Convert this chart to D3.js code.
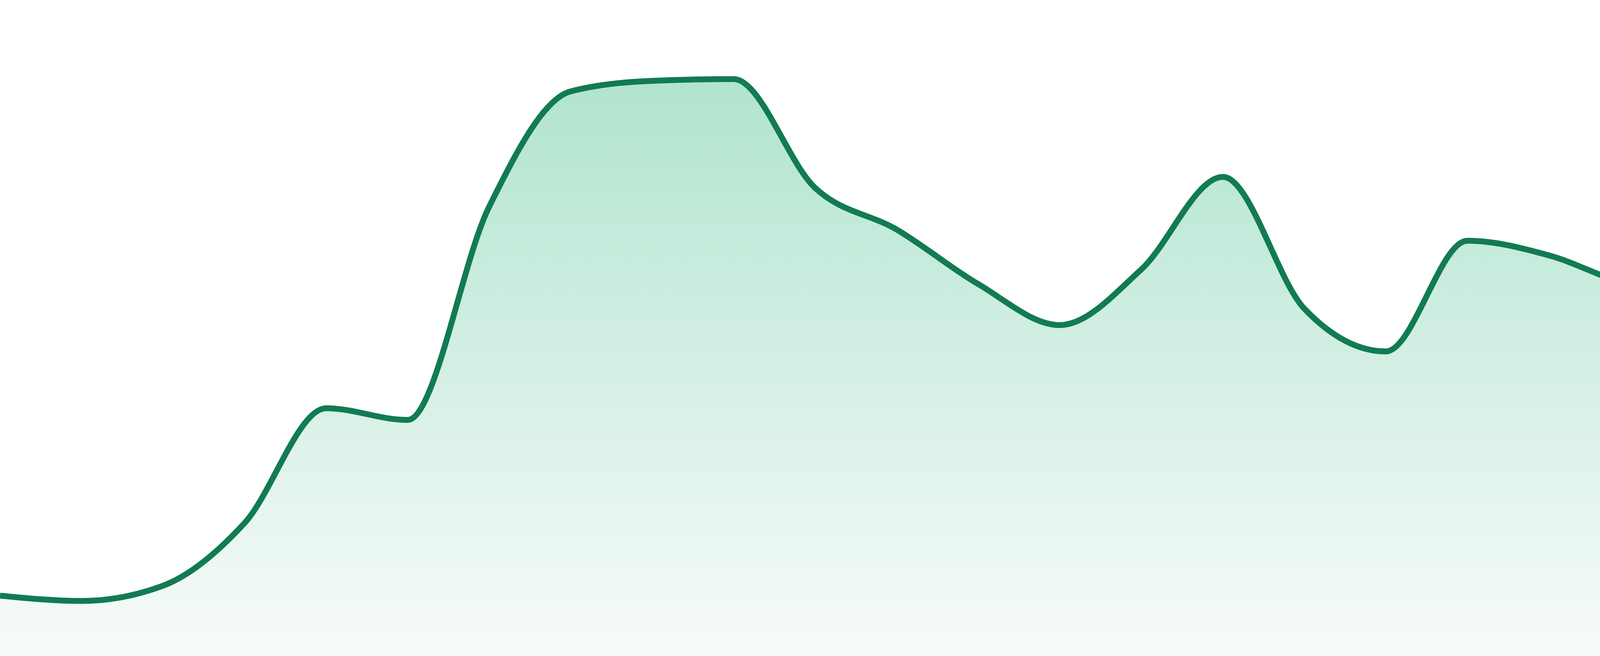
<!DOCTYPE html>
<html>
<head>
<meta charset="utf-8">
<script src="https://cdn.jsdelivr.net/npm/d3@7"></script>
<style>
  html, body { margin: 0; padding: 0; background: #fff; }
  svg { display: block; }
</style>
</head>
<body>
<svg class="chartContainer" viewBox="0 0 4800 1680" width="4800" height="1680"></svg>
<script>
// one point per hour, no axis is shown
const hours = ['00', '01', '02', '03', '04', '05', '06', '07', '08', '09', '10', '11',
  '12', '13', '14', '15', '16', '17', '18', '19', '20', '21', '22', '23']
const values = [10.3, 9.4, 12.0, 22.7, 42.3, 40.3, 76.7, 96.4, 98.2, 98.5, 79.9, 72.8,
  63.5, 56.5, 66.0, 81.8, 59.3, 52.0, 70.9, 68.4, 63.3, 61.3, 67.0, 64.3]
const yDomain = [0, 100]

const lineColor = '#127b52'
const fillTop = '#b0e4cf'
const fillBottom = '#f8fbfa'

const svg = d3.select('svg.chartContainer')
const [width, height] = svg.attr('viewBox').split(' ').slice(2).map(Number)

const data = hours.map((h, i) => ({ hour: h, value: values[i] }))

const xScale = d3.scalePoint()
  .domain(hours)
  .range([0, width])

const yScale = d3.scaleLinear()
  .domain(yDomain)
  .range([height, 180])

const defs = svg.append('defs')
const grad = defs.append('linearGradient')
  .attr('id', 'areaFill')
  .attr('gradientUnits', 'userSpaceOnUse')
  .attr('x1', 0).attr('x2', 0)
  .attr('y1', yScale(d3.max(values))).attr('y2', height)
grad.append('stop').attr('offset', '0%').attr('stop-color', fillTop)
grad.append('stop').attr('offset', '100%').attr('stop-color', fillBottom)

const area = d3.area()
  .x((d) => xScale(d.hour))
  .y0(height)
  .y1((d) => yScale(d.value))
  .curve(d3.curveMonotoneX)

const line = d3.line()
  .x((d) => xScale(d.hour))
  .y((d) => yScale(d.value))
  .curve(d3.curveMonotoneX)

svg.append('rect')
  .attr('width', width)
  .attr('height', height)
  .style('fill', '#fff')

svg.append('path')
  .datum(data)
  .attr('class', 'area')
  .attr('d', area)
  .style('fill', 'url(#areaFill)')

svg.append('path')
  .datum(data)
  .attr('class', 'line')
  .attr('d', line)
  .style('fill', 'none')
  .attr('stroke', lineColor)
  .attr('stroke-width', 15)
  .attr('stroke-linejoin', 'round')
</script>
</body>
</html>
